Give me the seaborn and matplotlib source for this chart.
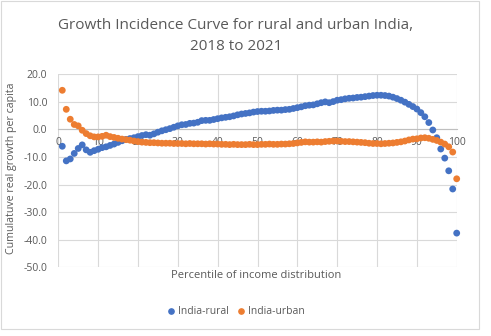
import numpy as np
import pandas as pd
import seaborn as sns
import matplotlib
matplotlib.use("Agg")
import matplotlib.pyplot as plt
from matplotlib.patches import Rectangle

percentiles = list(range(1, 101))

rural = [-6.1, -11.4, -10.7, -8.7, -6.9, -5.6, -7.4, -8.3, -7.7, -7.2,
         -6.6, -6.3, -5.8, -5.3, -4.7, -4.1, -3.6, -3.3, -3.0, -2.6,
         -2.2, -1.9, -2.1, -1.6, -1.0, -0.5, -0.1, 0.3, 0.8, 1.3,
         1.7, 1.8, 2.2, 2.3, 2.6, 3.2, 3.3, 3.3, 3.6, 3.9,
         4.2, 4.4, 4.6, 4.9, 5.3, 5.6, 5.8, 6.0, 6.3, 6.5,
         6.6, 6.6, 6.7, 6.9, 7.0, 7.0, 7.2, 7.3, 7.6, 7.9,
         8.2, 8.6, 8.8, 8.9, 9.3, 9.7, 10.0, 9.7, 10.1, 10.6,
         10.8, 11.1, 11.3, 11.4, 11.6, 11.7, 11.9, 12.1, 12.3, 12.4,
         12.4, 12.3, 12.1, 11.7, 11.2, 10.6, 9.9, 9.1, 8.3, 7.4,
         6.1, 4.6, 2.5, -0.2, -3.0, -7.1, -10.4, -15.0, -21.6, -37.6]

urban = [14.2, 7.3, 3.7, 1.8, 1.3, -0.3, -1.5, -2.3, -2.7, -2.7,
         -2.5, -2.1, -2.6, -2.9, -3.2, -3.5, -3.7, -3.9, -4.2, -4.4,
         -4.6, -4.7, -4.8, -4.8, -4.9, -5.0, -5.0, -5.0, -5.1, -5.1,
         -5.1, -5.2, -5.1, -5.2, -5.2, -5.2, -5.3, -5.2, -5.3, -5.3,
         -5.4, -5.4, -5.5, -5.4, -5.5, -5.5, -5.5, -5.4, -5.5, -5.5,
         -5.4, -5.4, -5.3, -5.4, -5.4, -5.3, -5.3, -5.2, -5.1, -4.9,
         -4.7, -4.5, -4.6, -4.6, -4.5, -4.6, -4.4, -4.3, -4.2, -4.2,
         -4.3, -4.4, -4.4, -4.5, -4.6, -4.7, -4.8, -5.0, -5.1, -5.1,
         -5.2, -5.1, -5.0, -4.9, -4.7, -4.5, -4.2, -3.8, -3.5, -3.4,
         -3.1, -3.0, -3.2, -3.6, -4.0, -4.6, -5.3, -6.3, -8.2, -17.9]

series_names = ["India-rural", "India-urban"]
colors = ["#4472C4", "#ED7D31"]
x_ticks = list(range(0, 101, 10))
y_ticks = list(range(-50, 21, 10))

title = "Growth Incidence Curve for rural and urban India,\n2018 to 2021"
xlabel = "Percentile of income distribution"
ylabel = "Cumulatuve real growth per capita"

df = pd.DataFrame({
    "Percentile": percentiles * 2,
    "Growth": rural + urban,
    "Series": [series_names[0]] * len(rural) + [series_names[1]] * len(urban),
})

sns.set_style("white")
plt.rcParams["font.family"] = ["Open Sans", "DejaVu Sans"]
text_color = "#595959"
grid_color = "#D9D9D9"

W, H = 491, 336
fig = plt.figure(figsize=(W / 100, H / 100), dpi=100)
ax = fig.add_axes([58.3 / W, 1 - 267.3 / H, 398.4 / W, 193 / H])

sns.scatterplot(data=df, x="Percentile", y="Growth", hue="Series",
                palette=colors, s=24, edgecolor="none", linewidth=0,
                ax=ax, legend=False, zorder=3, clip_on=False)

ax.set_xlim(0, 100)
ax.set_ylim(-50, 20)
ax.set_xticks(x_ticks)
ax.set_yticks(y_ticks)
ax.set_yticklabels([f"{v:.1f}" for v in y_ticks])
ax.grid(True, color=grid_color, linewidth=0.8)
ax.set_axisbelow(True)
for side in ["top", "right", "left"]:
    ax.spines[side].set_visible(False)
ax.spines["bottom"].set_position(("data", 0))
ax.spines["bottom"].set_color("#BFBFBF")
ax.spines["bottom"].set_linewidth(0.8)
ax.tick_params(axis="both", length=0, labelsize=7.5, colors=text_color)
ax.tick_params(axis="x", pad=5.5)
ax.tick_params(axis="y", pad=8)
ax.set_xlabel("")
ax.set_ylabel("")

fig.text(256 / W, 1 - 276 / H, xlabel, ha="center", va="center",
         fontsize=8, color=text_color)
fig.text(12 / W, 1 - 168.5 / H, ylabel, ha="center", va="center",
         rotation=90, fontsize=7.7, color=text_color)
fig.text(236 / W, 1 - 36 / H, title, ha="center", va="center",
         fontsize=11, color=text_color, linespacing=1.55)

# legend
leg_items = [(171, series_names[0], colors[0]), (241, series_names[1], colors[1])]
for px, name, c in leg_items:
    fig.text((px + 7) / W, 1 - 311 / H, name, ha="left", va="center",
             fontsize=7.5, color=text_color)
    fig.add_artist(plt.Line2D([px / W], [1 - 311 / H], marker="o",
                              markersize=3.8, color=c, linestyle="none",
                              transform=fig.transFigure))

fig.add_artist(Rectangle((0.5 / W, 1 - 329 / H), 478.5 / W, 328.5 / H,
                         transform=fig.transFigure, fill=False,
                         edgecolor="#D9D9D9", linewidth=0.8))

fig.savefig("out.png", dpi=100)
